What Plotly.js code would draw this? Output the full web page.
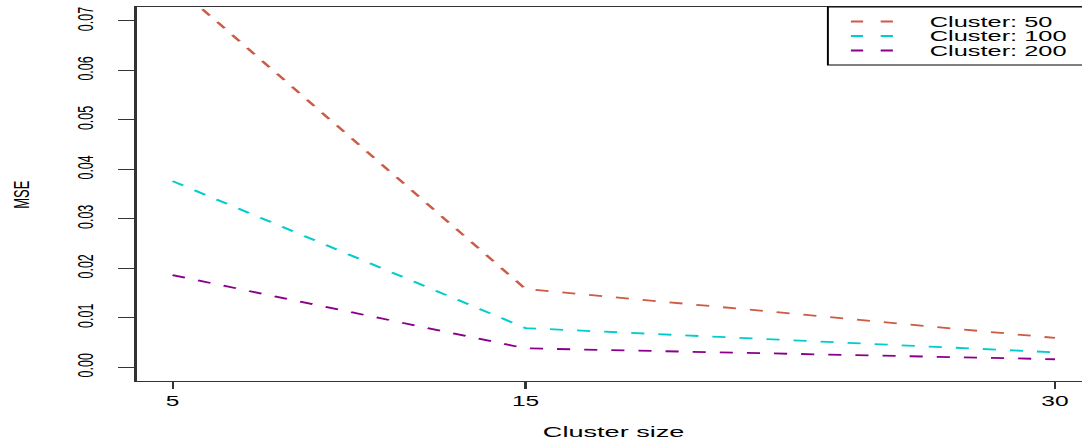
<!DOCTYPE html>
<html>
<head>
<meta charset="utf-8">
<script src="https://cdn.plot.ly/plotly-3.0.1.min.js"></script>
<style>
  html, body { margin: 0; padding: 0; background: #fff; overflow: hidden; }
  #wrap { width: 1082px; height: 445px; overflow: hidden; }
  #chart { width: 618px; height: 445px; transform: scaleX(1.75081); transform-origin: 0 0; }
</style>
</head>
<body>
<div id="wrap"><div id="chart"></div></div>
<script>
// ---- data ----
const clusterSize = [5, 15, 30];
const mse50  = [0.0776, 0.0158, 0.0059];
const mse100 = [0.0376, 0.0079, 0.0030];
const mse200 = [0.0186, 0.0038, 0.0016];
const seriesNames = ['Cluster: 50', 'Cluster: 100', 'Cluster: 200'];
const yTickVals = [0, 0.01, 0.02, 0.03, 0.04, 0.05, 0.06, 0.07];
const yTickText = ['0.00', '0.01', '0.02', '0.03', '0.04', '0.05', '0.06', '0.07'];
const xTickVals = [5, 15, 30];
const xTickText = ['5', '15', '30'];

const colors = ['#CD5B45', '#00CDCD', '#8B008B'];

// ---- geometry helpers (target pixel -> paper coords) ----
const S = 1082 / 618;
const W = 618, H = 445;
const L = 137 / S, T = 7, B = 445 - 381;
function px(x) { return (x / S - L) / (W - L); }
function py(y) { return (381 - y) / (381 - T); }

const allSeries = [mse50, mse100, mse200];
const traces = allSeries.map((ys, i) => ({
  x: clusterSize, y: ys, type: 'scatter', mode: 'lines',
  name: seriesNames[i], showlegend: false,
  line: { color: colors[i], width: 1.8, dash: '7.5px,8px' },
  cliponaxis: true
}));

const font = 'Liberation Sans, Arial, Helvetica, sans-serif';

const shapes = [
  // legend box
  { type: 'rect', xref: 'paper', yref: 'paper', x0: px(828), x1: px(1100), y0: py(65), y1: py(7),
    line: { color: '#000', width: 1.1 }, fillcolor: 'rgba(0,0,0,0)' }
];
const legendRows = [21.5, 36, 50.5];
const annotations = [];
legendRows.forEach((yy, i) => {
  shapes.push({ type: 'line', xref: 'paper', yref: 'paper', x0: px(851), x1: px(893), y0: py(yy), y1: py(yy),
    line: { color: colors[i], width: 1.8, dash: '7px,10px' } });
  annotations.push({ xref: 'paper', yref: 'paper', x: px(927), y: py(yy), xanchor: 'left', yanchor: 'middle',
    text: seriesNames[i], showarrow: false, font: { family: font, size: 14.5, color: '#000' } });
});
annotations.push({ xref: 'paper', yref: 'paper', x: px(613.5), y: py(432), xanchor: 'center', yanchor: 'middle',
  text: 'Cluster size', showarrow: false, font: { family: font, size: 15.5, color: '#000' } });
annotations.push({ xref: 'paper', yref: 'paper', x: px(21), y: py(194), xanchor: 'center', yanchor: 'middle',
  text: 'MSE', textangle: -90, showarrow: false, font: { family: font, size: 13, color: '#000' } });

const layout = {
  width: W, height: H,
  margin: { l: L, r: 0, t: T, b: B, pad: 0 },
  paper_bgcolor: '#fff', plot_bgcolor: '#fff',
  showlegend: false,
  xaxis: {
    range: [5 - (173 - 137) / 35.28, 5 + (1082 - 173) / 35.28],
    tickvals: xTickVals, ticktext: xTickText,
    ticks: 'outside', ticklen: 7, tickwidth: 1.2, tickcolor: '#333',
    showline: true, linecolor: '#333', linewidth: 1.2, mirror: true,
    showgrid: false, zeroline: false,
    tickfont: { family: font, size: 14, color: '#000' }
  },
  yaxis: {
    range: [-0.0028, 0.0728],
    tickvals: yTickVals, ticktext: yTickText, tickangle: -90,
    ticks: 'outside', ticklen: 9.5, tickwidth: 1.2, tickcolor: '#333',
    showline: true, linecolor: '#333', linewidth: 1.2, mirror: false,
    showgrid: false, zeroline: false,
    ticklabelstandoff: 9,
    tickfont: { family: font, size: 12.5, color: '#000' }
  },
  shapes: shapes,
  annotations: annotations
};

Plotly.newPlot('chart', traces, layout, { displayModeBar: false, staticPlot: true });
</script>
</body>
</html>
